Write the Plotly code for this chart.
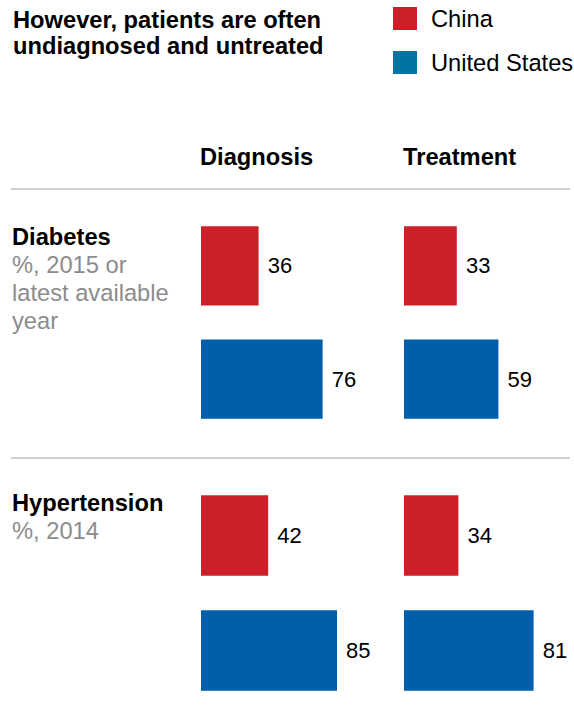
import plotly.graph_objects as go

# data
countries = ["China", "United States"]
conditions = ["Diabetes", "Hypertension"]
subtitle_lines = [["%, 2015 or", "latest available", "year"], ["%, 2014"]]
measures = ["Diagnosis", "Treatment"]
title_lines = ["However, patients are often", "undiagnosed and untreated"]
diabetes_diagnosis = [36, 76]
diabetes_treatment = [33, 59]
hypertension_diagnosis = [42, 85]
hypertension_treatment = [34, 81]

W, H = 574, 725
RED = "#CC2029"
BLUE = "#005EAB"
LEGEND_BLUE = "#0075A3"
GRAY = "#8C8C8C"
FONT = "Liberation Sans, Arial, sans-serif"
FS = 23.7


def px(x):
  return x / W


def py(y):
  return 1 - y / H


fig = go.Figure()

panels = [
  (diabetes_diagnosis, "x", "y"),
  (diabetes_treatment, "x2", "y2"),
  (hypertension_diagnosis, "x3", "y3"),
  (hypertension_treatment, "x4", "y4"),
]
for vals, xa, ya in panels:
  fig.add_trace(go.Bar(
    x=vals, y=countries, orientation="h",
    xaxis=xa, yaxis=ya,
    marker=dict(color=[RED, BLUE], line=dict(width=0)),
    texttemplate="\u00a0%{x}", textposition="outside",
    outsidetextfont=dict(family=FONT, size=22, color="#000000"),
    cliponaxis=False, showlegend=False, hoverinfo="skip",
  ))

diag_dom = [px(201), px(361)]
treat_dom = [px(404), px(564)]
row1_dom = [py(435.75), py(209.25)]
row2_dom = [py(708), py(478)]

xax = dict(range=[0, 100], visible=False, fixedrange=True)
yax = dict(range=[1.5, -0.5], visible=False, type="category",
           categoryorder="array", categoryarray=countries)

fig.update_layout(
  width=W, height=H,
  margin=dict(l=0, r=0, t=0, b=0),
  paper_bgcolor="white", plot_bgcolor="white",
  bargap=0.3,
  font=dict(family=FONT, size=FS, color="#000000"),
  xaxis=dict(xax, domain=diag_dom, anchor="y"),
  xaxis2=dict(xax, domain=treat_dom, anchor="y2"),
  xaxis3=dict(xax, domain=diag_dom, anchor="y3"),
  xaxis4=dict(xax, domain=treat_dom, anchor="y4"),
  yaxis=dict(yax, domain=row1_dom, anchor="x"),
  yaxis2=dict(yax, domain=row1_dom, anchor="x2"),
  yaxis3=dict(yax, domain=row2_dom, anchor="x3"),
  yaxis4=dict(yax, domain=row2_dom, anchor="x4"),
)

ann = []
# title, two lines with tight leading
for k, line in enumerate(title_lines):
  ann.append(dict(x=px(11), y=py(5 + 26 * k), xref="paper", yref="paper",
                  xanchor="left", yanchor="top", text="<b>%s</b>" % line,
                  showarrow=False))

# legend
shapes = []
for i, (name, col) in enumerate(zip(countries, [RED, LEGEND_BLUE])):
  top = 7 + i * 44
  shapes.append(dict(type="rect", xref="paper", yref="paper",
                     x0=px(393), x1=px(417), y0=py(top + 23), y1=py(top),
                     fillcolor=col, line=dict(width=0)))
  ann.append(dict(x=px(429), y=py(top + 12), xref="paper", yref="paper",
                  xanchor="left", yanchor="middle", text=name,
                  showarrow=False))

# column headers
for m, x0 in zip(measures, [198, 401]):
  ann.append(dict(x=px(x0), y=py(157), xref="paper", yref="paper",
                  xanchor="left", yanchor="middle", text="<b>%s</b>" % m,
                  showarrow=False))

# separators
for yl in [189, 458]:
  shapes.append(dict(type="line", xref="paper", yref="paper",
                     x0=px(11), x1=px(570), y0=py(yl), y1=py(yl),
                     line=dict(color="#D0D0D0", width=2)))

# row labels
for cond, lines, ytop in zip(conditions, subtitle_lines, [221.5, 488]):
  ann.append(dict(x=px(10), y=py(ytop), xref="paper", yref="paper",
                  xanchor="left", yanchor="top", text="<b>%s</b>" % cond,
                  showarrow=False))
  for k, line in enumerate(lines):
    ann.append(dict(x=px(10), y=py(ytop + 28.3 * (k + 1)), xref="paper", yref="paper",
                    xanchor="left", yanchor="top", text=line,
                    showarrow=False, font=dict(color=GRAY)))

fig.update_layout(annotations=ann, shapes=shapes)

fig.write_html("out.html", config={"displayModeBar": False},
               post_script="document.body.style.margin='0px';")
